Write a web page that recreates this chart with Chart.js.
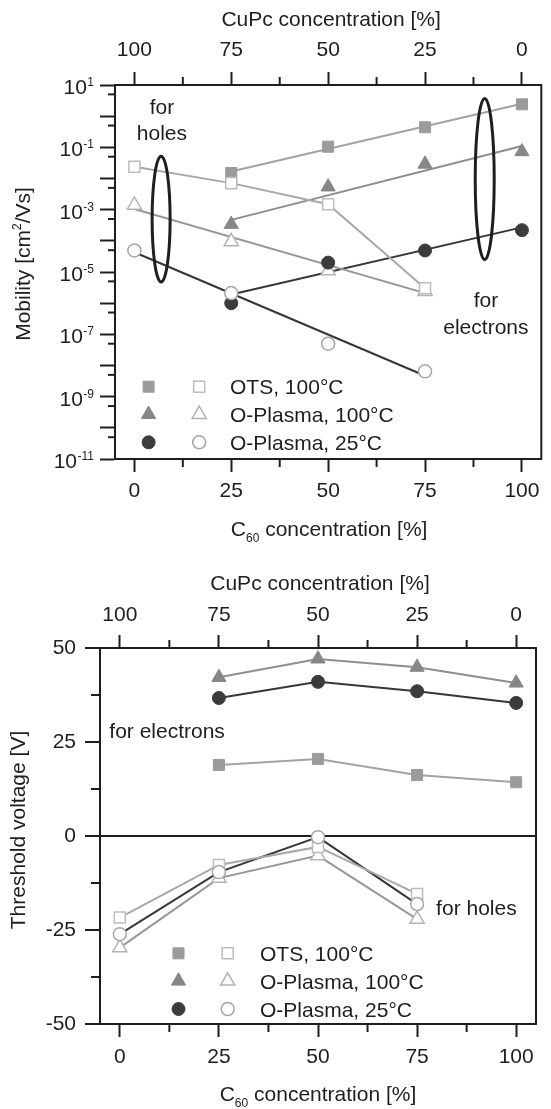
<!DOCTYPE html>
<html>
<head>
<meta charset="utf-8">
<script src="https://cdn.jsdelivr.net/npm/chart.js@4.4.1/dist/chart.umd.min.js"></script>
<style>
  html, body { margin: 0; padding: 0; background: #fff; }
  #wrap { position: relative; width: 551px; height: 1109px; }
  canvas { position: absolute; left: 0; }
  #mob { top: 0; }
  #vt { top: 545px; }
</style>
</head>
<body>
<div id="wrap">
  <canvas id="mob" width="551" height="545"></canvas>
  <canvas id="vt" width="551" height="564"></canvas>
</div>
<script>
// ---- Data ----
const elecX    = [25, 50, 75, 100];     // C60 concentration [%]
const holeX    = [0, 25, 50, 75];
const elecFitX = [25, 100];
const holeFitX = [0, 75];

// mobility [cm2/Vs]
const otsElec  = [0.015, 0.105, 0.44, 2.4];
const otsHole  = [0.024, 0.0071, 0.0015, 3.0e-6];
const o100Elec = [3.4e-4, 5.4e-3, 0.029, 0.073];
const o100Hole = [1.4e-3, 9.5e-5, 1.1e-5, 2.4e-6];
const o25Elec  = [1.0e-6, 2.0e-5, 4.9e-5, 2.2e-4];
const o25Hole  = [4.9e-5, 2.1e-6, 5.0e-8, 6.5e-9];

// fitted lines (end points)
const otsElecFit  = [0.0167, 2.5];
const o100ElecFit = [4.7e-4, 0.11];
const o25ElecFit  = [1.9e-6, 2.7e-4];
const o100HoleFit = [1.05e-3, 2.1e-6];
const o25HoleFit  = [4.3e-5, 4.7e-9];

// threshold voltage [V]
const vtOtsElec  = [18.9, 20.5, 16.2, 14.3];
const vtO100Elec = [42.2, 47.1, 44.9, 40.7];
const vtO25Elec  = [36.7, 41.0, 38.5, 35.4];
const vtOtsHole  = [-21.7, -7.7, -2.9, -15.4];
const vtO100Hole = [-29.7, -11.2, -5.2, -22.1];
const vtO25Hole  = [-26.1, -9.6, -0.3, -18.1];

// ticks
const xMajor  = [0, 25, 50, 75, 100];
const xMinor  = [12.5, 37.5, 62.5, 87.5];
const muExp   = [1, 0, -1, -2, -3, -4, -5, -6, -7, -8, -9, -10, -11];
const muLabel = [1, -1, -3, -5, -7, -9, -11];
const vtMajor = [-50, -25, 0, 25, 50];
const vtMinor = [-37.5, -12.5, 12.5, 37.5];

const legendText = ['OTS, 100°C', 'O-Plasma, 100°C', 'O-Plasma, 25°C'];

// ---- Styles ----
const FONT = "'Liberation Sans', Arial, Helvetica, sans-serif";
const INK = '#1e1e1e';
Chart.defaults.font.family = FONT;
Chart.defaults.font.size = 21;
Chart.defaults.color = INK;

const S = {
  otsF:  { shape: 'rect',     r: 7.8, fill: '#9b9b9b', stroke: '#9b9b9b', bw: 1,   line: '#a3a3a3' },
  otsO:  { shape: 'rect',     r: 7.8, fill: '#ffffff', stroke: '#bcbcbc', bw: 1.5, line: '#a8a8a8' },
  o100F: { shape: 'triangle', r: 8.2, fill: '#878787', stroke: '#878787', bw: 1,   line: '#8e8e8e' },
  o100O: { shape: 'triangle', r: 8.2, fill: '#ffffff', stroke: '#b3b3b3', bw: 1.5, line: '#979797' },
  o25F:  { shape: 'circle',   r: 6.5, fill: '#3b3b3b', stroke: '#3b3b3b', bw: 1,   line: '#363636' },
  o25O:  { shape: 'circle',   r: 6.5, fill: '#ffffff', stroke: '#a6a6a6', bw: 1.5, line: '#363636' }
};

const pts = (xs, ys) => xs.map((x, i) => ({ x: x, y: ys[i] }));

function lineDs(xs, ys, color) {
  return { data: pts(xs, ys), showLine: true, borderColor: color, borderWidth: 2,
           pointRadius: 0, fill: false, order: 20 };
}
function markDs(xs, ys, s, order) {
  return { data: pts(xs, ys), showLine: false, pointStyle: s.shape, pointRadius: s.r,
           pointBackgroundColor: s.fill, pointBorderColor: s.stroke, pointBorderWidth: s.bw,
           order: order };
}

// ---- Drawing helpers ----
function drawRuns(ctx, runs, cx, cy, rot) {
  ctx.save();
  ctx.translate(cx, cy);
  ctx.rotate(rot || 0);
  ctx.fillStyle = INK;
  ctx.textAlign = 'left';
  ctx.textBaseline = 'alphabetic';
  let total = 0;
  runs.forEach(r => { ctx.font = r.size + 'px ' + FONT; r.w = ctx.measureText(r.text).width; total += r.w; });
  let x = -total / 2;
  runs.forEach(r => { ctx.font = r.size + 'px ' + FONT; ctx.fillText(r.text, x, 7.5 + (r.dy || 0)); x += r.w; });
  ctx.restore();
}

function marker(ctx, s, x, y) {
  ctx.save();
  ctx.beginPath();
  const r = s.r;
  if (s.shape === 'rect') {
    const h = r * Math.SQRT1_2;
    ctx.rect(x - h, y - h, 2 * h, 2 * h);
  } else if (s.shape === 'triangle') {
    for (let k = 0; k < 3; k++) {
      const a = k * 2 * Math.PI / 3;
      const px = x + Math.sin(a) * r, py = y - Math.cos(a) * r;
      if (k) ctx.lineTo(px, py); else ctx.moveTo(px, py);
    }
    ctx.closePath();
  } else {
    ctx.arc(x, y, r, 0, Math.PI * 2);
  }
  ctx.fillStyle = s.fill; ctx.fill();
  ctx.lineWidth = s.bw; ctx.strokeStyle = s.stroke; ctx.stroke();
  ctx.restore();
}

// frame, minor ticks, titles, notes, ellipses, legend
const decor = {
  id: 'decor',
  afterDatasetsDraw(chart, args, o) {
    const { ctx, chartArea: a, scales } = chart;
    ctx.save();
    ctx.strokeStyle = INK;
    ctx.lineWidth = 2;
    ctx.beginPath(); ctx.moveTo(a.right, a.top - 1); ctx.lineTo(a.right, a.bottom + 1); ctx.stroke();

    (o.minor || []).forEach(m => {
      const sc = scales[m.axis];
      m.values.forEach(v => {
        const p = sc.getPixelForValue(v);
        ctx.beginPath();
        if (sc.position === 'bottom') { ctx.moveTo(p, a.bottom); ctx.lineTo(p, a.bottom + m.len); }
        else if (sc.position === 'top') { ctx.moveTo(p, a.top); ctx.lineTo(p, a.top - m.len); }
        else { ctx.moveTo(a.left, p); ctx.lineTo(a.left - m.len, p); }
        ctx.stroke();
      });
    });

    if (o.logLabels) {
      const sc = scales.y;
      ctx.fillStyle = INK;
      ctx.textAlign = 'right';
      ctx.textBaseline = 'alphabetic';
      o.logLabels.forEach(e => {
        const y = sc.getPixelForValue(Math.pow(10, e));
        const xr = a.left - 21;
        const es = e < 0 ? '-' + (-e) : String(e);
        ctx.font = '12px ' + FONT;
        ctx.fillText(es, xr, y + 1);
        const ew = ctx.measureText(es).width;
        ctx.font = '21px ' + FONT;
        ctx.fillText('10', xr - ew - 0.5, y + 9);
      });
    }

    (o.ellipses || []).forEach(e => {
      const cx = scales.x.getPixelForValue(e.x);
      const y1 = scales.y.getPixelForValue(e.y1), y2 = scales.y.getPixelForValue(e.y2);
      ctx.lineWidth = 3;
      ctx.beginPath();
      ctx.ellipse(cx, (y1 + y2) / 2, e.rx, Math.abs(y2 - y1) / 2, 0, 0, Math.PI * 2);
      ctx.stroke();
    });

    (o.notes || []).forEach(n => {
      ctx.font = '21px ' + FONT;
      ctx.fillStyle = INK;
      ctx.textAlign = n.align || 'center';
      ctx.textBaseline = 'alphabetic';
      ctx.fillText(n.text, scales.x.getPixelForValue(n.x), scales.y.getPixelForValue(n.y) + 7.5);
    });

    (o.titles || []).forEach(t => {
      if (t.at === 'top') drawRuns(ctx, t.runs, (a.left + a.right) / 2 + t.dx, a.top + t.dy, 0);
      else if (t.at === 'bottom') drawRuns(ctx, t.runs, (a.left + a.right) / 2 + t.dx, a.bottom + t.dy, 0);
      else drawRuns(ctx, t.runs, t.dx, (a.top + a.bottom) / 2 + t.dy, -Math.PI / 2);
    });

    if (o.legend) {
      const L = o.legend;
      L.rows.forEach((row, i) => {
        const y = a.bottom + L.y[i];
        marker(ctx, row[0], a.left + L.xf, y);
        marker(ctx, row[1], a.left + L.xo, y);
        ctx.font = '21px ' + FONT;
        ctx.fillStyle = INK;
        ctx.textAlign = 'left';
        ctx.textBaseline = 'alphabetic';
        ctx.fillText(legendText[i], a.left + L.xt, y + 7.5);
      });
    }
    ctx.restore();
  }
};

const setTicks = vals => scale => { scale.ticks = vals.map(v => ({ value: v })); };
const tickGrid = len => ({ drawOnChartArea: false, tickLength: len, tickWidth: 2, tickColor: INK });
const axisBorder = { color: INK, width: 2 };

const cupcTitle = [{ text: 'CuPc concentration [%]', size: 21 }];
const c60Title = [
  { text: 'C', size: 21 },
  { text: '60', size: 12, dy: 6 },
  { text: ' concentration [%]', size: 21 }
];

// ---- Mobility chart ----
new Chart(document.getElementById('mob'), {
  type: 'scatter',
  data: {
    datasets: [
      lineDs(elecFitX, otsElecFit, S.otsF.line),
      lineDs(holeX, otsHole, S.otsO.line),
      lineDs(elecFitX, o100ElecFit, S.o100F.line),
      lineDs(holeFitX, o100HoleFit, S.o100O.line),
      lineDs(elecFitX, o25ElecFit, S.o25F.line),
      lineDs(holeFitX, o25HoleFit, S.o25O.line),
      markDs(holeX, o25Hole, S.o25O, 0),
      markDs(elecX, o25Elec, S.o25F, 1),
      markDs(holeX, otsHole, S.otsO, 2),
      markDs(holeX, o100Hole, S.o100O, 3),
      markDs(elecX, otsElec, S.otsF, 4),
      markDs(elecX, o100Elec, S.o100F, 5)
    ]
  },
  options: {
    responsive: false,
    animation: false,
    events: [],
    layout: { padding: { left: 0, right: 1, top: 0, bottom: 0 } },
    plugins: {
      legend: { display: false },
      tooltip: { enabled: false },
      decor: {
        minor: [
          { axis: 'x', values: xMinor, len: 8 },
          { axis: 'x2', values: xMinor, len: 8 },
          { axis: 'y', values: muExp.slice(1).map(e => 5 * Math.pow(10, e)), len: 7 }
        ],
        logLabels: muLabel,
        ellipses: [
          { x: 6.9, y1: 0.052, y2: 4.8e-6, rx: 9 },
          { x: 90.4, y1: 3.7, y2: 2.5e-5, rx: 9.5 }
        ],
        notes: [
          { text: 'for', x: 7.1, y: 2.0 },
          { text: 'holes', x: 7.1, y: 0.29 },
          { text: 'for', x: 90.7, y: 1.3e-6 },
          { text: 'electrons', x: 90.7, y: 1.8e-7 }
        ],
        titles: [
          { at: 'top', runs: cupcTitle, dx: 3, dy: -67 },
          { at: 'bottom', runs: c60Title, dx: 1, dy: 69 },
          { at: 'left', runs: [
              { text: 'Mobility [cm', size: 21 },
              { text: '2', size: 12, dy: -9 },
              { text: '/Vs]', size: 21 }
            ], dx: 22, dy: -8 }
        ],
        legend: {
          rows: [[S.otsF, S.otsO], [S.o100F, S.o100O], [S.o25F, S.o25O]],
          y: [-72.3, -44.7, -16.7], xf: 33.6, xo: 84.2, xt: 115
        }
      }
    },
    scales: {
      x: {
        type: 'linear', position: 'bottom', min: -5, max: 105,
        afterBuildTicks: setTicks(xMajor),
        afterFit: s => { s.height = 86; },
        ticks: { padding: 7, color: INK, font: { size: 21 } },
        grid: tickGrid(13), border: axisBorder
      },
      x2: {
        type: 'linear', position: 'top', min: -5, max: 105, reverse: true,
        afterBuildTicks: setTicks(xMajor),
        afterFit: s => { s.height = 85; },
        ticks: { padding: 9, color: INK, font: { size: 21 } },
        grid: tickGrid(13), border: axisBorder
      },
      y: {
        type: 'logarithmic', position: 'left', min: 1e-11, max: 10,
        afterBuildTicks: setTicks(muExp.map(e => Math.pow(10, e))),
        afterFit: s => { s.width = 115; },
        ticks: { callback: () => '' },
        grid: tickGrid(15), border: axisBorder
      }
    }
  },
  plugins: [decor]
});

// ---- Threshold voltage chart ----
new Chart(document.getElementById('vt'), {
  type: 'scatter',
  data: {
    datasets: [
      lineDs(elecX, vtOtsElec, S.otsF.line),
      lineDs(elecX, vtO100Elec, S.o100F.line),
      lineDs(elecX, vtO25Elec, S.o25F.line),
      lineDs(holeX, vtOtsHole, S.otsO.line),
      lineDs(holeX, vtO100Hole, S.o100O.line),
      lineDs(holeX, vtO25Hole, S.o25O.line),
      markDs(holeX, vtO25Hole, S.o25O, 0),
      markDs(holeX, vtOtsHole, S.otsO, 1),
      markDs(holeX, vtO100Hole, S.o100O, 2),
      markDs(elecX, vtO25Elec, S.o25F, 3),
      markDs(elecX, vtO100Elec, S.o100F, 4),
      markDs(elecX, vtOtsElec, S.otsF, 5)
    ]
  },
  options: {
    responsive: false,
    animation: false,
    events: [],
    layout: { padding: { left: 0, right: 15, top: 0, bottom: 0 } },
    plugins: {
      legend: { display: false },
      tooltip: { enabled: false },
      decor: {
        minor: [
          { axis: 'x', values: xMinor, len: 8 },
          { axis: 'x2', values: xMinor, len: 8 },
          { axis: 'y', values: vtMinor, len: 9 }
        ],
        notes: [
          { text: 'for electrons', x: -2.65, y: 28.1, align: 'left' },
          { text: 'for holes', x: 79.8, y: -19, align: 'left' }
        ],
        titles: [
          { at: 'top', runs: cupcTitle, dx: 2, dy: -66 },
          { at: 'bottom', runs: c60Title, dx: 0, dy: 69 },
          { at: 'left', runs: [{ text: 'Threshold voltage [V]', size: 21 }], dx: 17.5, dy: -6 }
        ],
        legend: {
          rows: [[S.otsF, S.otsO], [S.o100F, S.o100O], [S.o25F, S.o25O]],
          y: [-70.7, -43, -15], xf: 78.5, xo: 127.7, xt: 160
        }
      }
    },
    scales: {
      x: {
        type: 'linear', position: 'bottom', min: -5, max: 105,
        afterBuildTicks: setTicks(xMajor),
        afterFit: s => { s.height = 85; },
        ticks: { padding: 8, color: INK, font: { size: 21 } },
        grid: tickGrid(13), border: axisBorder
      },
      x2: {
        type: 'linear', position: 'top', min: -5, max: 105, reverse: true,
        afterBuildTicks: setTicks(xMajor),
        afterFit: s => { s.height = 103; },
        ticks: { padding: 7, color: INK, font: { size: 21 } },
        grid: tickGrid(13), border: axisBorder
      },
      y: {
        type: 'linear', position: 'left', min: -50, max: 50,
        afterBuildTicks: setTicks(vtMajor),
        afterFit: s => { s.width = 100; },
        ticks: { padding: 9, color: INK, font: { size: 21 } },
        grid: {
          drawOnChartArea: true, tickLength: 15, tickWidth: 2, tickColor: INK, lineWidth: 2,
          color: c => (c.tick && c.tick.value === 0) ? INK : 'rgba(0,0,0,0)'
        },
        border: axisBorder
      }
    }
  },
  plugins: [decor]
});
</script>
</body>
</html>
